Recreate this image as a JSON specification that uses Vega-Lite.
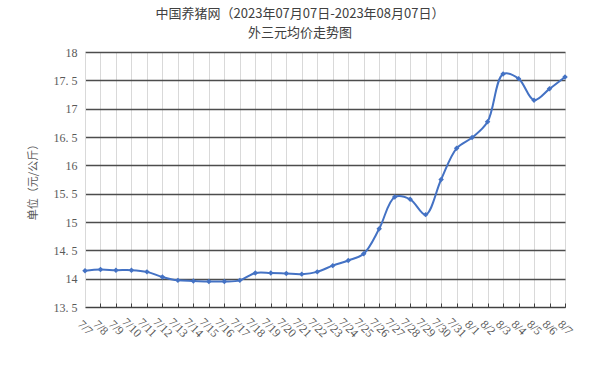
{
  "$schema": "https://vega.github.io/schema/vega-lite/v6.json",
  "autosize": {"type": "none"},
  "width": 480,
  "height": 255,
  "padding": {"left": 85, "top": 52, "right": 35, "bottom": 58},
  "background": "white",
  "config": {"view": {"stroke": null}},
  "title": {
    "text": ["中国养猪网（2023年07月07日-2023年08月07日）", "外三元均价走势图"],
    "font": "Noto Sans CJK SC",
    "fontSize": 13,
    "fontWeight": "normal",
    "color": "#404040",
    "lineHeight": 19,
    "anchor": "middle",
    "dx": -25,
    "offset": 6
  },
  "data": {
    "values": [
      {"date": "7/7", "price": 14.14},
      {"date": "7/8", "price": 14.16},
      {"date": "7/9", "price": 14.15},
      {"date": "7/10", "price": 14.15},
      {"date": "7/11", "price": 14.12},
      {"date": "7/12", "price": 14.03},
      {"date": "7/13", "price": 13.97},
      {"date": "7/14", "price": 13.96},
      {"date": "7/15", "price": 13.95},
      {"date": "7/16", "price": 13.95},
      {"date": "7/17", "price": 13.97},
      {"date": "7/18", "price": 14.10},
      {"date": "7/19", "price": 14.10},
      {"date": "7/20", "price": 14.09},
      {"date": "7/21", "price": 14.08},
      {"date": "7/22", "price": 14.12},
      {"date": "7/23", "price": 14.23},
      {"date": "7/24", "price": 14.32},
      {"date": "7/25", "price": 14.44},
      {"date": "7/26", "price": 14.88},
      {"date": "7/27", "price": 15.44},
      {"date": "7/28", "price": 15.40},
      {"date": "7/29", "price": 15.13},
      {"date": "7/30", "price": 15.75},
      {"date": "7/31", "price": 16.30},
      {"date": "8/1", "price": 16.49},
      {"date": "8/2", "price": 16.77},
      {"date": "8/3", "price": 17.61},
      {"date": "8/4", "price": 17.53},
      {"date": "8/5", "price": 17.15},
      {"date": "8/6", "price": 17.35},
      {"date": "8/7", "price": 17.56}
    ]
  },
  "encoding": {
    "x": {
      "field": "date",
      "type": "ordinal",
      "sort": null,
      "scale": {"type": "point", "padding": 0},
      "axis": {
        "title": null,
        "labelAngle": 45,
        "labelAlign": "center",
        "labelBaseline": "middle",
        "labelPadding": 24,
        "labelFont": "Liberation Serif",
        "labelFontSize": 12,
        "labelColor": "#595959",
        "grid": true,
        "gridColor": "#d9d9d9",
        "gridWidth": 1,
        "domainColor": "#404040",
        "domainWidth": 1,
        "tickColor": "#404040",
        "tickSize": -4,
        "labelOverlap": false
      }
    },
    "y": {
      "field": "price",
      "type": "quantitative",
      "scale": {"domain": [13.5, 18], "nice": false, "zero": false},
      "axis": {
        "title": "单位（元/公斤）",
        "titleFont": "Noto Sans CJK SC",
        "titleFontSize": 11,
        "titleFontWeight": "normal",
        "titleColor": "#595959",
        "titleX": -52,
        "titleY": 127,
        "titleAngle": -90,
        "titleAlign": "center",
        "titleBaseline": "middle",
        "values": [13.5, 14, 14.5, 15, 15.5, 16, 16.5, 17, 17.5, 18],
        "labelExpr": "replace(toString(datum.value), '.', '. ')",
        "labelFont": "Liberation Serif",
        "labelFontSize": 12,
        "labelColor": "#595959",
        "labelPadding": 8,
        "grid": true,
        "gridColor": "#4d4d4d",
        "gridWidth": 1.3,
        "domainColor": "#d9d9d9",
        "ticks": false
      }
    }
  },
  "layer": [
    {
      "mark": {"type": "line", "interpolate": "catmull-rom", "color": "#4472C4", "strokeWidth": 2}
    },
    {
      "mark": {"type": "point", "shape": "diamond", "filled": true, "size": 30, "color": "#4472C4", "opacity": 1}
    }
  ]
}
